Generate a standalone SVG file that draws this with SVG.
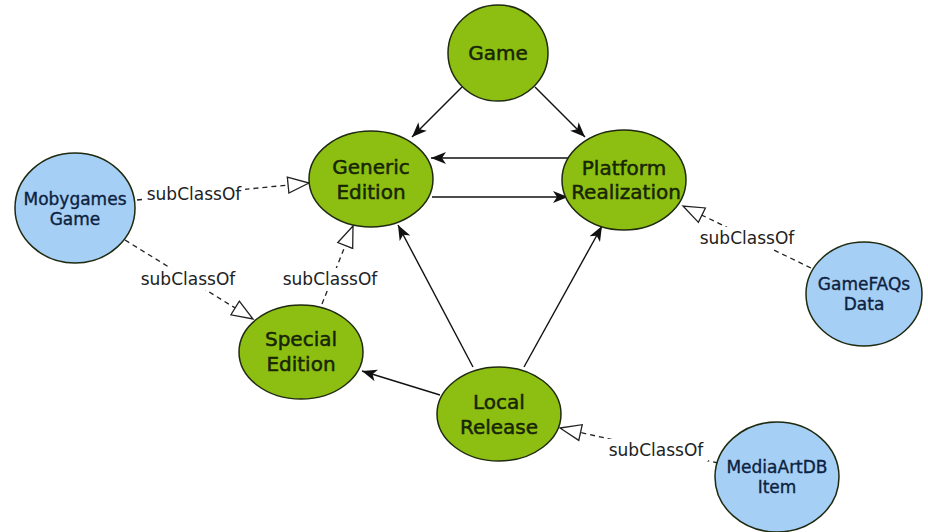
<svg xmlns="http://www.w3.org/2000/svg" width="928" height="532" viewBox="0 0 928 532">
  <style>
    .cls ellipse { stroke: #1f2a10; stroke-width: 1.5; }
    .core ellipse { fill: #8dbf12; }
    .ext ellipse { fill: #a6cff5; }
    .core text { font-family: "DejaVu Sans", sans-serif; font-size: 20px; fill: #172503; stroke: #172503; stroke-width: 0.5; text-anchor: middle; }
    .ext text { font-family: "DejaVu Sans", sans-serif; font-size: 17px; fill: #0c2240; stroke: #0c2240; stroke-width: 0.35; text-anchor: middle; }
    .rel { stroke: #111; stroke-width: 1.4; fill: none; marker-end: url(#arrow); }
    .sub { stroke: #222; stroke-width: 1.3; fill: none; stroke-dasharray: 5 4; marker-end: url(#hollow); }
    .lbl rect { fill: #fff; }
    .lbl text { font-family: "DejaVu Sans", sans-serif; font-size: 17px; fill: #222; text-anchor: middle; }
  </style>
  <defs>
    <marker id="arrow" markerUnits="userSpaceOnUse" markerWidth="16" markerHeight="14" refX="15" refY="7" orient="auto">
      <path d="M0,1 L15,7 L0,13 L4,7 z" fill="#111"/>
    </marker>
    <marker id="hollow" markerUnits="userSpaceOnUse" markerWidth="24" markerHeight="20" refX="22" refY="10" orient="auto">
      <path d="M1,2 L22,10 L1,18 z" fill="#fff" stroke="#222" stroke-width="1.3"/>
    </marker>
  </defs>
  <rect width="928" height="532" fill="#fff"/>

  <g id="connectors">
    <line class="rel" x1="462" y1="87" x2="412" y2="137"/>
    <line class="rel" x1="535" y1="87" x2="585" y2="137"/>
    <line class="rel" x1="569" y1="158" x2="431" y2="158"/>
    <line class="rel" x1="432" y1="197" x2="568" y2="197"/>
    <line class="rel" x1="473" y1="367" x2="398" y2="225"/>
    <line class="rel" x1="524" y1="367" x2="602" y2="226"/>
    <line class="rel" x1="440" y1="395" x2="362" y2="371"/>

    <line class="sub" x1="137" y1="200" x2="309" y2="183"/>
    <line class="sub" x1="125" y1="240" x2="253" y2="319"/>
    <line class="sub" x1="322" y1="304" x2="353" y2="226"/>
    <line class="sub" x1="811" y1="268" x2="683" y2="206"/>
    <line class="sub" x1="718" y1="463" x2="560" y2="428"/>

    <g class="lbl">
      <rect x="143" y="183" width="102" height="22"/>
      <text x="194" y="200">subClassOf</text>
      <rect x="136" y="268" width="104" height="22"/>
      <text x="188" y="285">subClassOf</text>
      <rect x="279" y="268" width="103" height="22"/>
      <text x="330" y="285">subClassOf</text>
      <rect x="696" y="227" width="103" height="22"/>
      <text x="747" y="244">subClassOf</text>
      <rect x="605" y="439" width="103" height="22"/>
      <text x="656" y="456">subClassOf</text>
    </g>
  </g>

  <g id="game" class="cls core">
    <ellipse cx="498" cy="53" rx="50" ry="48"/>
    <text x="498" y="60">Game</text>
  </g>
  <g id="generic-edition" class="cls core">
    <ellipse cx="371" cy="179" rx="62" ry="48"/>
    <text x="371" y="174">Generic</text>
    <text x="371" y="199">Edition</text>
  </g>
  <g id="platform-realization" class="cls core">
    <ellipse cx="624" cy="180" rx="62" ry="50"/>
    <text x="624" y="175">Platform</text>
    <text x="626" y="199">Realization</text>
  </g>
  <g id="special-edition" class="cls core">
    <ellipse cx="301" cy="352" rx="62" ry="47"/>
    <text x="301" y="346">Special</text>
    <text x="301" y="371">Edition</text>
  </g>
  <g id="local-release" class="cls core">
    <ellipse cx="499" cy="414" rx="62" ry="47"/>
    <text x="499" y="409">Local</text>
    <text x="499" y="434">Release</text>
  </g>
  <g id="mobygames-game" class="cls ext">
    <ellipse cx="75" cy="208" rx="60" ry="55"/>
    <text x="75" y="205">Mobygames</text>
    <text x="75" y="225">Game</text>
  </g>
  <g id="gamefaqs-data" class="cls ext">
    <ellipse cx="864" cy="294" rx="58" ry="52"/>
    <text x="864" y="290">GameFAQs</text>
    <text x="864" y="310">Data</text>
  </g>
  <g id="mediaartdb-item" class="cls ext">
    <ellipse cx="777" cy="477" rx="62" ry="55"/>
    <text x="777" y="473">MediaArtDB</text>
    <text x="777" y="493">Item</text>
  </g>
</svg>
